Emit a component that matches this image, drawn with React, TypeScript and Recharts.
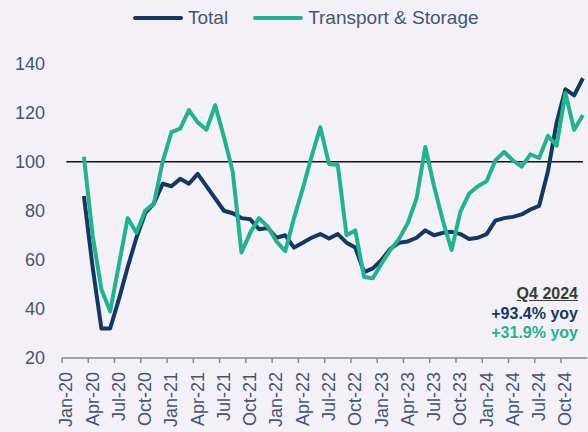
import React from 'react'
import { LineChart, Line, XAxis, YAxis, ReferenceLine, Legend } from 'recharts'

const monthNames = ['Jan', 'Feb', 'Mar', 'Apr', 'May', 'Jun', 'Jul', 'Aug', 'Sep', 'Oct', 'Nov', 'Dec']
const years = ['20', '21', '22', '23', '24']
const categories = years.flatMap((y) => monthNames.map((m) => `${m}-${y}`))

// Total (index, 2020 = 100 style)
const total = [
  null, null, 86, 57, 32, 32, 44, 57, 69, 79, 83, 91,
  90, 93, 91, 95, 90, 85, 80, 79, 77, 76.5, 72.5, 73,
  69, 70, 65, 67, 69, 70.5, 68.7, 70.5, 67, 65, 55, 56.5,
  60, 64.5, 67, 67.5, 69, 72, 70, 71, 71.4, 70.5, 68.5, 69,
  70.5, 76, 77, 77.5, 78.5, 80.5, 82, 96, 116, 129.5, 127, 134,
]

// Transport & Storage
const transport = [
  null, null, 102, 70, 48, 39, 58, 77, 71, 80, 83, 100,
  112, 113.5, 121, 116, 113, 123, 110, 96, 63, 71, 77, 73.5,
  67.5, 63.5, 77, 89, 102, 114, 99, 98.6, 70, 72, 53, 52.5,
  58.5, 64, 68.5, 75, 85, 106, 90, 76, 64, 79.5, 87, 90,
  92, 100.5, 104, 100.5, 98, 103, 101.5, 110.5, 106.5, 128, 113, 119,
]

const yTicks = [20, 40, 60, 80, 100, 120, 140]

const annotationTitle = 'Q4 2024'
const annotationTotal = '+93.4% yoy'
const annotationTransport = '+31.9% yoy'

const data = categories.map((month, i) => ({
  month,
  total: total[i],
  transport: transport[i],
}))

const NAVY = '#143862'
const TEAL = '#1fb48f'
const TEXT = '#435672'
const BG = '#f3f0f6'
const FONT = '"Liberation Sans", Arial, sans-serif'

const W = 588
const H = 432
const Y_AXIS_W = 62
const RIGHT = 0.7
const band = (W - Y_AXIS_W - RIGHT) / categories.length

const MonthTick = (props: any) => {
  const { x, y, payload } = props
  return (
    <g>
      <line x1={x - band / 2} x2={x - band / 2} y1={y - 14} y2={y - 9} stroke="#8a8a8a" strokeWidth={1.5} />
      <text
        x={x}
        y={y}
        transform={`rotate(-90, ${x}, ${y})`}
        textAnchor="end"
        dominantBaseline="central"
        fill={TEXT}
        fontSize={18}
        fontFamily={FONT}
      >
        {payload.value}
      </text>
    </g>
  )
}

const LegendContent = () => {
  const items = [
    { name: 'Total', color: NAVY },
    { name: 'Transport & Storage', color: TEAL },
  ]
  return (
    <div
      style={{
        height: 30,
        display: 'flex',
        alignItems: 'center',
        paddingLeft: 133,
        fontFamily: FONT,
        fontSize: 19,
        color: TEXT,
      }}
    >
      {items.map((it, i) => (
        <div key={it.name} style={{ display: 'flex', alignItems: 'center', marginRight: i === 0 ? 25 : 0 }}>
          <span style={{ width: 50, height: 4, borderRadius: 2, background: it.color, marginRight: 5 }} />
          <span>{it.name}</span>
        </div>
      ))}
    </div>
  )
}

export default function App() {
  return (
    <div style={{ position: 'fixed', left: 0, top: 0, width: W, height: H, background: BG, fontFamily: FONT }}>
      <LineChart width={W} height={H} data={data} margin={{ top: 33.5, right: RIGHT, left: 0, bottom: 0 }}>
        <Legend verticalAlign="top" content={<LegendContent />} wrapperStyle={{ top: 3, left: 0, width: W }} />
        <XAxis
          dataKey="month"
          interval={2}
          height={74}
          padding={{ left: band / 2, right: band / 2 }}
          axisLine={{ stroke: '#8a8a8a', strokeWidth: 1.5 }}
          tickLine={false}
          tickSize={5}
          tickMargin={9}
          tick={<MonthTick />}
        />
        <YAxis
          width={Y_AXIS_W}
          domain={[20, 140]}
          ticks={yTicks}
          axisLine={false}
          tickLine={false}
          tickSize={0}
          tickMargin={17}
          tick={{ fill: TEXT, fontSize: 18, fontFamily: FONT }}
        />
        <ReferenceLine
          segment={[
            { x: categories[0], y: 100 },
            { x: categories[categories.length - 1], y: 100 },
          ]}
          stroke="#111"
          strokeWidth={1.5}
        />
        <Line dataKey="total" stroke={NAVY} strokeWidth={4} strokeLinejoin="round" dot={false} isAnimationActive={false} />
        <Line dataKey="transport" stroke={TEAL} strokeWidth={4} strokeLinejoin="round" dot={false} isAnimationActive={false} />
      </LineChart>
      <div
        style={{
          position: 'absolute',
          right: 10,
          top: 284,
          textAlign: 'right',
          fontSize: 16,
          fontWeight: 'bold',
          lineHeight: '19.5px',
        }}
      >
        <div style={{ color: '#3a3a3a', textDecoration: 'underline' }}>{annotationTitle}</div>
        <div style={{ color: NAVY }}>{annotationTotal}</div>
        <div style={{ color: TEAL }}>{annotationTransport}</div>
      </div>
    </div>
  )
}
